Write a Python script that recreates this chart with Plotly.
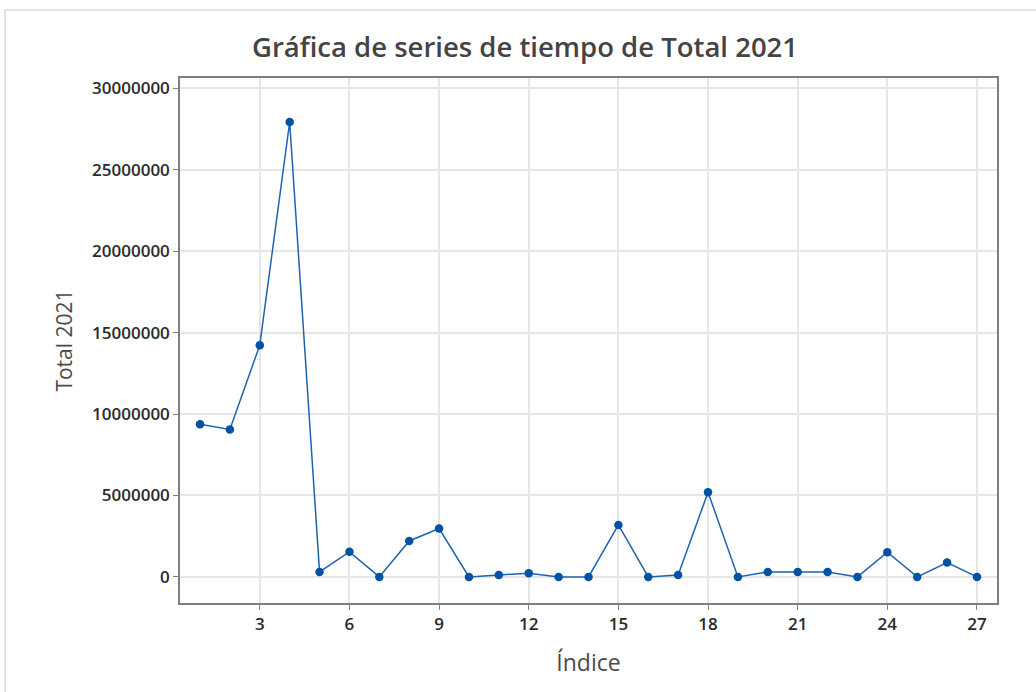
import plotly.graph_objects as go

indice = list(range(1, 28))
total_2021 = [9380000, 9050000, 14230000, 27930000, 310000, 1540000, 0, 2210000, 2970000,
              0, 120000, 230000, 0, 0, 3190000, 0, 120000, 5200000, 0, 310000, 310000,
              310000, 0, 1520000, 0, 880000, 0]
x_ticks = [3, 6, 9, 12, 15, 18, 21, 24, 27]
y_ticks = [0, 5000000, 10000000, 15000000, 20000000, 25000000, 30000000]

W, H = 1036, 692
L, R, T, B = 180, 39, 78, 89
pw, ph = W - L - R, H - T - B

fig = go.Figure()
fig.add_trace(go.Scatter(
    x=indice, y=total_2021, mode="lines+markers",
    line=dict(color="#1f63b0", width=1.5),
    marker=dict(color="#0052a3", size=8.5),
    showlegend=False,
))

font_family = "Open Sans, Noto Sans, DejaVu Sans, sans-serif"
fig.update_layout(
    width=W, height=H,
    margin=dict(l=L, r=R, t=T, b=B),
    paper_bgcolor="white", plot_bgcolor="white",
    font=dict(family=font_family, color="#333333"),
    title=dict(text="Gráfica de series de tiempo de Total 2021",
               x=525 / W, xanchor="center", y=1 - 47 / H, yanchor="middle",
               font=dict(size=27.5, color="#444444", family=font_family, weight=600)),
    xaxis=dict(range=[0.33, 27.67], tickvals=x_ticks, showgrid=True,
               gridcolor="#e6e6e6", gridwidth=1.5, zeroline=False,
               showline=True, linecolor="#7f7f7f", linewidth=1.5, mirror=True,
               ticks="outside", ticklen=5, tickcolor="#7f7f7f",
               tickfont=dict(size=17, color="#2a2a2a", weight=600),
               title=dict(text="Índice", font=dict(size=23, color="#4a4a4a"), standoff=21)),
    yaxis=dict(range=[-1600000, 30630000], tickvals=y_ticks, tickformat="d",
               showgrid=True, gridcolor="#e6e6e6", gridwidth=1.5, zeroline=False,
               showline=True, linecolor="#7f7f7f", linewidth=1.5, mirror=True,
               ticks="outside", ticklen=5, tickcolor="#7f7f7f",
               tickfont=dict(size=17, color="#2a2a2a", weight=600),
               title=dict(text="Total 2021", font=dict(size=21, color="#4a4a4a"), standoff=14)),
)

fig.add_shape(type="rect", xref="paper", yref="paper",
              x0=(5 - L) / pw, x1=(1045 - L) / pw,
              y0=(H - B - 705) / ph, y1=(H - B - 10) / ph,
              line=dict(color="#d8d8d8", width=1.5), fillcolor="rgba(0,0,0,0)", layer="below")

fig.write_html("out.html", config={"displayModeBar": False},
               post_script="document.body.style.margin='0';")
